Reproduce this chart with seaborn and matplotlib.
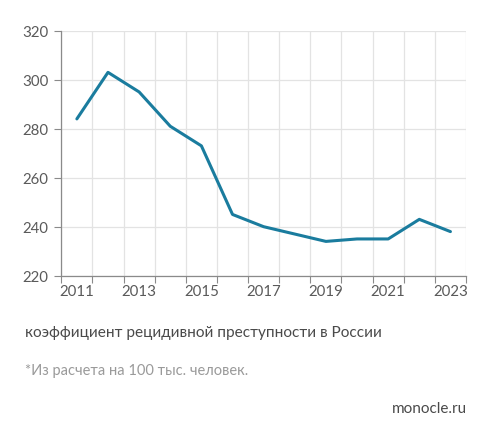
import numpy as np
import pandas as pd
import seaborn as sns
import matplotlib
matplotlib.use("Agg")
import matplotlib.pyplot as plt
from matplotlib.ticker import FixedLocator, NullFormatter

years = [2011, 2012, 2013, 2014, 2015, 2016, 2017, 2018, 2019, 2020, 2021, 2022, 2023]
values = [284, 303, 295, 281, 273, 245, 240, 237, 234, 235, 235, 243, 238]
year_labels = [2011, 2013, 2015, 2017, 2019, 2021, 2023]
y_ticks = [220, 240, 260, 280, 300, 320]

df = pd.DataFrame({"year": years, "value": values})

sns.set_theme(style="white")
plt.rcParams['font.family'] = ['Lato', 'DejaVu Sans']

fig = plt.figure(figsize=(4.92, 4.39), dpi=100)
ax = fig.add_axes([61.3/492, 1 - 276.7/439, (466 - 61.3)/492, (276.7 - 31.7)/439])

sns.lineplot(data=df, x="year", y="value", ax=ax, color="#1a7c9e", linewidth=2.2)

ax.set_xlim(years[0] - 0.5, years[-1] + 0.5)
ax.set_ylim(y_ticks[0], y_ticks[-1])

bounds = [y - 0.5 for y in years] + [years[-1] + 0.5]
ax.xaxis.set_major_locator(FixedLocator(bounds))
ax.xaxis.set_major_formatter(NullFormatter())
ax.xaxis.set_minor_locator(FixedLocator(year_labels))
ax.set_xticklabels([str(y) for y in year_labels], minor=True)
ax.tick_params(axis='x', which='major', length=5, width=0.8, color="#8a8a8a", direction='out', bottom=True)
ax.tick_params(axis='x', which='minor', length=0, labelsize=10.8, labelcolor="#5a5a5a", pad=6, bottom=True)

ax.set_yticks(y_ticks)
ax.set_yticklabels([str(v) for v in y_ticks])
ax.tick_params(axis='y', length=5, width=0.8, color="#8a8a8a", labelsize=10.8, labelcolor="#5a5a5a", pad=4, left=True)

ax.grid(True, which='major', color="#e3e3e3", linewidth=0.9)
ax.set_axisbelow(True)
for s in ["top", "right"]:
    ax.spines[s].set_visible(False)
for s in ["left", "bottom"]:
    ax.spines[s].set_color("#8a8a8a")
    ax.spines[s].set_linewidth(0.9)
ax.set_xlabel("")
ax.set_ylabel("")

fig.text(25/492, 1 - 333/439, "коэффициент рецидивной преступности в России",
         fontsize=11.1, color="#4a4a4a", va="center", ha="left")
fig.text(25/492, 1 - 371.5/439, "*Из расчета на 100 тыс. человек.",
         fontsize=10.5, color="#9a9a9a", va="center", ha="left")
fig.text(467/492, 1 - 409/439, "monocle.ru",
         fontsize=11, color="#4a4a4a", va="center", ha="right")

fig.savefig("out.png", dpi=100)
